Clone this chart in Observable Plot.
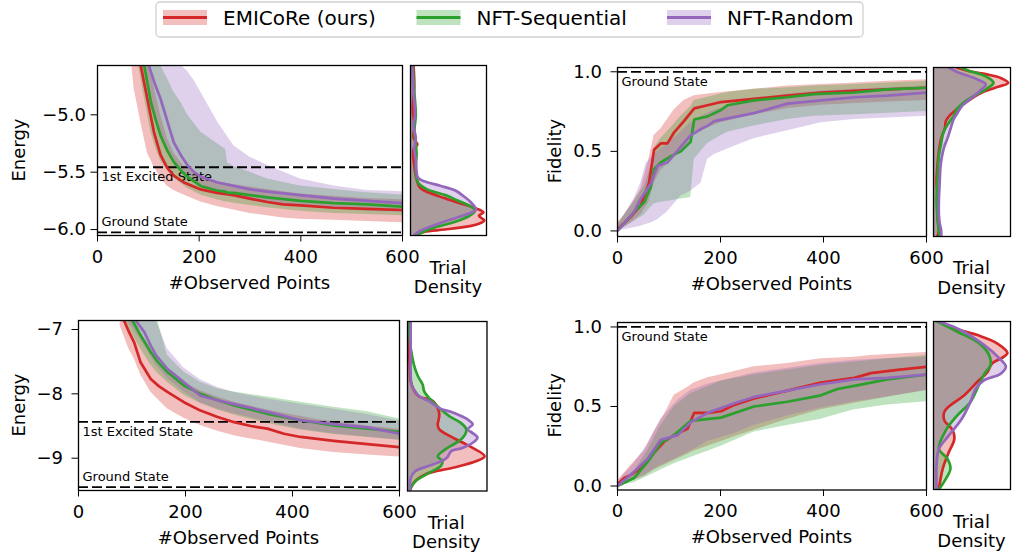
<!DOCTYPE html>
<html><head><meta charset="utf-8">
<script src="https://cdn.jsdelivr.net/npm/d3@7"></script>
<script src="https://cdn.jsdelivr.net/npm/@observablehq/plot@0.6"></script>
<style>
html,body{margin:0;padding:0;background:#fff;}
#root{position:relative;width:1013px;height:559px;overflow:hidden;font-family:"DejaVu Sans",sans-serif;background:#fff;}
</style></head><body><div id="root"></div>
<script>
// ---------- categories / labels ----------
const series = ["EMICoRe (ours)", "NFT-Sequential", "NFT-Random"];
const colors = ["#d62728", "#2ca02c", "#9467bd"];
const xTicks = [0, 200, 400, 600];
const xLabel = "#Observed Points";
const densityLabel = ["Trial", "Density"];

// ---------- Panel A: Energy (top-left). rows: [x, mean, lower, upper] ----------
const energyA_domain = [-6.052, -4.57];
const energyA_ticks = [-6.0, -5.5, -5.0];
const energyA_levels = [-5.457, -6.024];
const energyA_levelText = ["1st Excited State", "Ground State"];
const energyA_emicore = [[66,-4.30,-4.50,-4.10],[72,-4.38,-4.77,-4.15],[85,-4.57,-5.06,-4.25],[98,-4.86,-5.33,-4.45],[111,-5.15,-5.45,-4.75],[124,-5.35,-5.55,-5.0],[137,-5.46,-5.62,-5.20],[150,-5.53,-5.66,-5.33],[170,-5.59,-5.70,-5.45],[203,-5.65,-5.76,-5.53],[235,-5.68,-5.80,-5.58],[268,-5.70,-5.83,-5.61],[300,-5.73,-5.86,-5.63],[334,-5.76,-5.88,-5.65],[365,-5.78,-5.90,-5.67],[399,-5.79,-5.91,-5.69],[465,-5.81,-5.92,-5.71],[530,-5.82,-5.93,-5.73],[600,-5.83,-5.94,-5.74]];
const energyA_seq = [[80,-4.30,-4.55,-4.0],[92,-4.57,-4.85,-4.2],[105,-4.89,-5.15,-4.4],[115,-5.05,-5.30,-4.5],[124,-5.18,-5.40,-4.57],[137,-5.31,-5.48,-4.68],[150,-5.41,-5.55,-4.80],[165,-5.49,-5.60,-4.90],[177,-5.54,-5.64,-5.00],[203,-5.62,-5.70,-5.15],[235,-5.66,-5.74,-5.25],[252,-5.67,-5.76,-5.30],[256,-5.68,-5.76,-5.42],[268,-5.68,-5.77,-5.45],[300,-5.70,-5.79,-5.50],[334,-5.72,-5.81,-5.56],[399,-5.75,-5.84,-5.62],[465,-5.77,-5.86,-5.65],[530,-5.78,-5.87,-5.68],[600,-5.80,-5.88,-5.70]];
const energyA_rand = [[90,-4.30,-4.60,-4.0],[101,-4.57,-4.80,-4.1],[112,-4.72,-5.0,-4.2],[124,-4.86,-5.20,-4.3],[137,-5.05,-5.32,-4.4],[150,-5.24,-5.42,-4.5],[165,-5.36,-5.50,-4.57],[177,-5.44,-5.55,-4.62],[190,-5.50,-5.59,-4.70],[203,-5.54,-5.62,-4.80],[236,-5.59,-5.68,-5.06],[268,-5.62,-5.72,-5.27],[300,-5.65,-5.75,-5.37],[334,-5.67,-5.77,-5.44],[399,-5.70,-5.80,-5.56],[465,-5.73,-5.82,-5.62],[530,-5.75,-5.84,-5.66],[600,-5.77,-5.85,-5.67]];
// density rows: [value, relative density]
const densA_emicore = [[-4.57,0.04],[-4.75,0.05],[-4.95,0.03],[-5.10,0.05],[-5.20,0.04],[-5.26,0.09],[-5.30,0.04],[-5.44,0.05],[-5.56,0.08],[-5.63,0.12],[-5.66,0.18],[-5.72,0.42],[-5.77,0.65],[-5.81,0.84],[-5.85,0.96],[-5.88,0.90],[-5.92,0.97],[-5.95,0.90],[-5.97,0.78],[-6.0,0.45],[-6.02,0.18],[-6.05,0.06]];
const densA_seq = [[-4.57,0.03],[-4.8,0.05],[-5.0,0.07],[-5.15,0.05],[-5.25,0.07],[-5.35,0.08],[-5.45,0.07],[-5.55,0.08],[-5.60,0.11],[-5.65,0.22],[-5.70,0.46],[-5.75,0.63],[-5.79,0.77],[-5.835,0.85],[-5.87,0.80],[-5.91,0.68],[-5.95,0.50],[-5.98,0.33],[-6.01,0.20],[-6.05,0.08]];
const densA_rand = [[-4.57,0.02],[-4.8,0.04],[-5.0,0.06],[-5.1,0.04],[-5.2,0.07],[-5.3,0.05],[-5.4,0.07],[-5.5,0.08],[-5.55,0.10],[-5.58,0.18],[-5.62,0.40],[-5.66,0.59],[-5.71,0.70],[-5.76,0.79],[-5.826,0.86],[-5.88,0.68],[-5.93,0.45],[-5.98,0.24],[-6.01,0.13],[-6.05,0.05]];

// ---------- Panel B: Fidelity (top-right) ----------
const fidB_domain = [-0.035, 1.027];
const fidB_ticks = [0.0, 0.5, 1.0];
const fidB_levels = [1.0];
const fidB_levelText = ["Ground State"];
const fidB_emicore = [[0,0.01,0.0,0.05],[13,0.05,0.02,0.10],[26,0.09,0.05,0.16],[45,0.16,0.10,0.26],[61,0.30,0.18,0.45],[71,0.51,0.30,0.60],[84,0.55,0.38,0.64],[97,0.55,0.42,0.70],[110,0.62,0.46,0.76],[129,0.69,0.52,0.82],[149,0.77,0.60,0.85],[175,0.79,0.65,0.86],[201,0.81,0.68,0.87],[265,0.83,0.73,0.89],[330,0.85,0.77,0.91],[395,0.87,0.79,0.92],[460,0.88,0.80,0.93],[524,0.89,0.81,0.94],[600,0.90,0.82,0.95]];
const fidB_seq = [[0,0.0,0.0,0.04],[32,0.12,0.06,0.18],[52,0.18,0.10,0.28],[65,0.28,0.15,0.40],[71,0.39,0.17,0.52],[84,0.43,0.18,0.58],[104,0.47,0.19,0.65],[123,0.50,0.20,0.72],[142,0.56,0.21,0.78],[149,0.70,0.45,0.82],[175,0.72,0.55,0.84],[201,0.76,0.60,0.86],[214,0.79,0.62,0.87],[265,0.82,0.66,0.89],[330,0.84,0.70,0.90],[382,0.86,0.72,0.91],[460,0.87,0.73,0.92],[524,0.89,0.74,0.93],[600,0.90,0.75,0.94]];
const fidB_rand = [[0,0.0,0.0,0.03],[32,0.12,0.02,0.20],[45,0.20,0.03,0.30],[55,0.25,0.04,0.42],[65,0.30,0.05,0.46],[78,0.41,0.07,0.50],[97,0.43,0.12,0.55],[123,0.53,0.22,0.62],[142,0.60,0.25,0.68],[162,0.64,0.30,0.72],[175,0.66,0.45,0.74],[188,0.69,0.48,0.76],[233,0.72,0.54,0.80],[265,0.74,0.58,0.82],[330,0.80,0.63,0.86],[395,0.82,0.68,0.88],[460,0.84,0.70,0.89],[524,0.85,0.71,0.90],[600,0.87,0.72,0.91]];
const densB_emicore = [[-0.035,0.05],[0.0,0.07],[0.05,0.06],[0.10,0.05],[0.20,0.06],[0.30,0.04],[0.40,0.05],[0.50,0.07],[0.58,0.10],[0.65,0.15],[0.69,0.16],[0.73,0.22],[0.79,0.37],[0.84,0.52],[0.87,0.63],[0.90,0.80],[0.93,0.97],[0.96,0.88],[0.985,0.68],[1.0,0.50],[1.027,0.30]];
const densB_seq = [[-0.035,0.08],[0.0,0.07],[0.1,0.05],[0.2,0.04],[0.3,0.05],[0.4,0.06],[0.47,0.07],[0.55,0.10],[0.62,0.13],[0.68,0.20],[0.72,0.26],[0.77,0.31],[0.81,0.40],[0.85,0.53],[0.89,0.68],[0.93,0.78],[0.96,0.72],[0.985,0.61],[1.0,0.50],[1.027,0.36]];
const densB_rand = [[-0.035,0.10],[0.0,0.10],[0.05,0.08],[0.1,0.07],[0.2,0.07],[0.3,0.08],[0.4,0.09],[0.47,0.11],[0.53,0.14],[0.58,0.18],[0.64,0.22],[0.70,0.26],[0.74,0.31],[0.79,0.38],[0.83,0.48],[0.88,0.60],[0.92,0.68],[0.95,0.58],[0.985,0.39],[1.0,0.30],[1.027,0.20]];

// ---------- Panel C: Energy (bottom-left) ----------
const energyC_domain = [-9.502, -6.86];
const energyC_ticks = [-9, -8, -7];
const energyC_levels = [-8.434, -9.45];
const energyC_levelText = ["1st Excited State", "Ground State"];
const energyC_emicore = [[78,-6.70,-6.95,-6.5],[85,-6.86,-7.10,-6.6],[95,-7.05,-7.32,-6.75],[104,-7.20,-7.45,-6.86],[116,-7.51,-7.70,-7.05],[135,-7.77,-7.97,-7.35],[150,-7.88,-8.10,-7.52],[166,-7.97,-8.23,-7.65],[197,-8.13,-8.38,-7.82],[228,-8.26,-8.49,-7.95],[260,-8.36,-8.58,-8.05],[291,-8.44,-8.65,-8.13],[322,-8.50,-8.70,-8.19],[353,-8.54,-8.75,-8.25],[384,-8.62,-8.80,-8.30],[415,-8.67,-8.85,-8.35],[446,-8.70,-8.88,-8.40],[477,-8.73,-8.91,-8.43],[540,-8.78,-8.95,-8.50],[600,-8.83,-8.98,-8.55]];
const energyC_seq = [[90,-6.65,-6.9,-6.4],[101,-6.86,-7.08,-6.5],[116,-7.09,-7.30,-6.6],[135,-7.35,-7.55,-6.75],[148,-7.50,-7.68,-6.86],[166,-7.66,-7.82,-7.40],[197,-7.87,-8.02,-7.66],[228,-8.00,-8.15,-7.82],[260,-8.10,-8.25,-7.92],[291,-8.18,-8.33,-7.97],[353,-8.31,-8.46,-8.05],[415,-8.41,-8.56,-8.13],[477,-8.49,-8.63,-8.21],[540,-8.54,-8.68,-8.28],[600,-8.59,-8.72,-8.39]];
const energyC_rand = [[95,-6.65,-6.9,-6.4],[107,-6.86,-7.05,-6.5],[123,-7.04,-7.25,-6.65],[135,-7.25,-7.42,-6.75],[145,-7.40,-7.55,-6.86],[166,-7.61,-7.76,-7.30],[197,-7.82,-7.97,-7.60],[228,-8.03,-8.14,-7.78],[260,-8.10,-8.24,-7.90],[291,-8.16,-8.31,-7.98],[353,-8.28,-8.43,-8.08],[415,-8.41,-8.55,-8.16],[477,-8.47,-8.62,-8.24],[540,-8.52,-8.67,-8.32],[600,-8.62,-8.72,-8.42]];
const densC_emicore = [[-6.86,0.02],[-7.3,0.02],[-7.6,0.03],[-7.79,0.04],[-7.95,0.09],[-8.03,0.15],[-8.10,0.32],[-8.21,0.38],[-8.31,0.40],[-8.40,0.39],[-8.47,0.38],[-8.54,0.40],[-8.67,0.57],[-8.75,0.70],[-8.83,0.82],[-8.96,0.97],[-9.04,0.86],[-9.14,0.57],[-9.24,0.23],[-9.37,0.08],[-9.50,0.03]];
const densC_seq = [[-6.86,0.01],[-7.0,0.02],[-7.27,0.04],[-7.53,0.08],[-7.71,0.13],[-7.84,0.19],[-7.95,0.21],[-8.05,0.27],[-8.21,0.40],[-8.34,0.53],[-8.44,0.67],[-8.54,0.74],[-8.63,0.72],[-8.72,0.65],[-8.85,0.48],[-8.96,0.38],[-9.04,0.44],[-9.11,0.42],[-9.22,0.27],[-9.35,0.10],[-9.45,0.04],[-9.50,0.03]];
const densC_rand = [[-6.86,0.04],[-7.3,0.04],[-7.84,0.05],[-7.92,0.08],[-8.03,0.15],[-8.10,0.27],[-8.21,0.40],[-8.28,0.57],[-8.39,0.76],[-8.46,0.82],[-8.54,0.76],[-8.60,0.82],[-8.67,0.88],[-8.75,0.82],[-8.83,0.69],[-8.88,0.55],[-8.98,0.50],[-9.04,0.42],[-9.11,0.27],[-9.19,0.10],[-9.30,0.04],[-9.50,0.03]];

// ---------- Panel D: Fidelity (bottom-right) ----------
const fidD_domain = [-0.025, 1.028];
const fidD_ticks = [0.0, 0.5, 1.0];
const fidD_levels = [1.0];
const fidD_levelText = ["Ground State"];
const fidD_emicore = [[0,0.01,0.0,0.03],[13,0.05,0.02,0.08],[26,0.07,0.03,0.13],[52,0.13,0.06,0.22],[71,0.21,0.10,0.34],[91,0.28,0.13,0.45],[110,0.32,0.16,0.57],[136,0.36,0.20,0.62],[149,0.46,0.22,0.65],[175,0.46,0.25,0.68],[201,0.47,0.28,0.70],[227,0.51,0.31,0.72],[265,0.55,0.35,0.75],[330,0.60,0.42,0.77],[395,0.65,0.48,0.80],[460,0.68,0.52,0.81],[492,0.71,0.54,0.82],[544,0.73,0.57,0.83],[600,0.75,0.60,0.84]];
const fidD_seq = [[0,0.0,0.0,0.02],[32,0.05,0.02,0.09],[58,0.15,0.06,0.22],[84,0.27,0.10,0.38],[110,0.32,0.14,0.50],[142,0.41,0.18,0.58],[201,0.43,0.25,0.66],[265,0.50,0.34,0.70],[330,0.53,0.38,0.73],[395,0.57,0.42,0.76],[427,0.61,0.45,0.77],[460,0.63,0.48,0.78],[524,0.67,0.51,0.80],[600,0.70,0.53,0.82]];
const fidD_rand = [[0,0.0,0.0,0.03],[32,0.09,0.04,0.14],[58,0.17,0.08,0.26],[84,0.29,0.13,0.42],[117,0.32,0.18,0.54],[142,0.40,0.22,0.60],[175,0.46,0.28,0.64],[227,0.52,0.33,0.68],[265,0.56,0.38,0.71],[330,0.60,0.44,0.74],[395,0.64,0.49,0.77],[460,0.67,0.53,0.79],[524,0.68,0.56,0.80],[600,0.70,0.60,0.81]];
const densD_emicore = [[1.028,0.09],[0.985,0.27],[0.943,0.57],[0.89,0.83],[0.83,0.96],[0.80,0.89],[0.765,0.76],[0.71,0.70],[0.65,0.57],[0.566,0.40],[0.503,0.22],[0.46,0.14],[0.41,0.14],[0.346,0.25],[0.29,0.27],[0.21,0.20],[0.105,0.12],[-0.025,0.07]];
const densD_seq = [[1.028,0.05],[0.964,0.31],[0.90,0.57],[0.82,0.72],[0.755,0.74],[0.70,0.66],[0.63,0.59],[0.524,0.48],[0.44,0.31],[0.346,0.16],[0.23,0.07],[0.168,0.18],[0.105,0.22],[0.042,0.16],[-0.025,0.07]];
const densD_rand = [[1.028,0.07],[0.975,0.35],[0.88,0.66],[0.80,0.85],[0.744,0.94],[0.70,0.87],[0.66,0.66],[0.608,0.55],[0.524,0.48],[0.42,0.37],[0.314,0.20],[0.23,0.07],[0.126,0.04],[-0.025,0.04]];

// ---------- layout ----------
const panels = [
  {curves:[energyA_emicore,energyA_seq,energyA_rand], dens:[densA_emicore,densA_seq,densA_rand], yDomain:energyA_domain, yTicks:energyA_ticks, fmt:".1f", levels:energyA_levels, levelText:energyA_levelText, side:[1,-1], yLabel:"Energy", ylx:19, frame:{l:97,t:65,w:305,h:170}, dframe:{l:410,t:65,w:76,h:170}, ypad:5},
  {curves:[fidB_emicore,fidB_seq,fidB_rand], dens:[densB_emicore,densB_seq,densB_rand], yDomain:fidB_domain, yTicks:fidB_ticks, fmt:".1f", levels:fidB_levels, levelText:fidB_levelText, side:[1], yLabel:"Fidelity", ylx:555, frame:{l:617,t:66.5,w:309,h:169}, dframe:{l:933,t:66.5,w:77,h:169}, ypad:9},
  {curves:[energyC_emicore,energyC_seq,energyC_rand], dens:[densC_emicore,densC_seq,densC_rand], yDomain:energyC_domain, yTicks:energyC_ticks, fmt:"d", levels:energyC_levels, levelText:energyC_levelText, side:[1,-1], yLabel:"Energy", ylx:19, frame:{l:78,t:320,w:321,h:170}, dframe:{l:406.5,t:320.5,w:79.5,h:169.5}, ypad:9},
  {curves:[fidD_emicore,fidD_seq,fidD_rand], dens:[densD_emicore,densD_seq,densD_rand], yDomain:fidD_domain, yTicks:fidD_ticks, fmt:".1f", levels:fidD_levels, levelText:fidD_levelText, side:[1], yLabel:"Fidelity", ylx:555, frame:{l:617,t:321.5,w:309,h:167.5}, dframe:{l:933,t:321,w:77,h:168}, ypad:9}
];

const root = document.getElementById("root");
const baseStyle = {background:"none", fontFamily:"'DejaVu Sans', sans-serif", fontSize:"18px", color:"#000", overflow:"visible"};
const colorScale = {domain: series, range: colors};

function place(svg, left, top) {
  svg.style.position = "absolute";
  svg.style.left = left + "px";
  svg.style.top = top + "px";
  root.appendChild(svg);
}

function mainPlot(p) {
  const ml = 60, mr = 24, mt = 4, mb = 36;
  const rows = p.curves.flatMap((arr, i) => arr.map(([x, m, lo, hi]) => ({s: series[i], x, m, lo, hi})));
  const lv = p.levels.map((v, i) => ({v, t: p.levelText[i], side: p.side[i]}));
  const svg = Plot.plot({
    width: p.frame.w + ml + mr, height: p.frame.h + mt + mb,
    marginLeft: ml, marginRight: mr, marginTop: mt, marginBottom: mb,
    style: baseStyle,
    x: {domain: [0, 600], ticks: xTicks, tickSize: 6.5, tickPadding: 8, label: null, tickFormat: d3.format("d")},
    y: {domain: p.yDomain, ticks: p.yTicks, tickFormat: d3.format(p.fmt), tickSize: 6.5, tickPadding: p.ypad, label: null},
    color: colorScale,
    marks: [
      Plot.areaY(rows, {x: "x", y1: "lo", y2: "hi", z: "s", fill: "s", fillOpacity: 0.3, clip: true}),
      Plot.ruleY(lv, {y: "v", stroke: "#000", strokeWidth: 1.8, strokeDasharray: "10,4"}),
      Plot.text(lv.filter(d => d.side > 0), {x: () => 0, y: "v", text: "t", textAnchor: "start", dx: 4, dy: 10, fontSize: 13, fill: "#000"}),
      Plot.text(lv.filter(d => d.side < 0), {x: () => 0, y: "v", text: "t", textAnchor: "start", dx: 4, dy: -10, fontSize: 13, fill: "#000"}),
      Plot.line(rows, {x: "x", y: "m", z: "s", stroke: "s", strokeWidth: 2.7, clip: true}),
      Plot.frame({stroke: "#000", strokeWidth: 1.3})
    ]
  });
  place(svg, p.frame.l - ml, p.frame.t - mt);
}

function densPlot(p) {
  const m = 2;
  const rows = p.dens.flatMap((arr, i) => arr.map(([v, d]) => ({s: series[i], v, d})));
  const svg = Plot.plot({
    width: p.dframe.w + 2 * m, height: p.dframe.h + 2 * m, margin: m,
    style: baseStyle,
    x: {domain: [0, 1], axis: null},
    y: {domain: p.yDomain, axis: null},
    color: colorScale,
    marks: [
      Plot.areaX(rows, {x1: () => 0, x2: "d", y: "v", z: "s", fill: "s", fillOpacity: 0.3, curve: "catmull-rom", clip: true}),
      Plot.line(rows, {x: "d", y: "v", z: "s", stroke: "s", strokeWidth: 2.7, curve: "catmull-rom", clip: true}),
      Plot.frame({stroke: "#000", strokeWidth: 1.3})
    ]
  });
  place(svg, p.dframe.l - m, p.dframe.t - m);
}

panels.forEach(p => { mainPlot(p); densPlot(p); });

// ---------- overlay text: axis labels + legend ----------
const ov = d3.select(root).append("svg")
  .attr("width", 1013).attr("height", 559)
  .style("position", "absolute").style("left", "0px").style("top", "0px")
  .attr("font-family", "'DejaVu Sans', sans-serif").attr("fill", "#000");

panels.forEach(p => {
  const f = p.frame, df = p.dframe, bottom = f.t + f.h;
  ov.append("text").attr("x", f.l + f.w / 2).attr("y", bottom + 54).attr("text-anchor", "middle").attr("font-size", 18).text(xLabel);
  ov.append("text").attr("transform", `translate(${p.ylx},${f.t + f.h / 2}) rotate(-90)`).attr("text-anchor", "middle").attr("dy", "0.35em").attr("font-size", 18).text(p.yLabel);
  ov.append("text").attr("x", df.l + df.w / 2).attr("y", bottom + 38.5).attr("text-anchor", "middle").attr("font-size", 18).text(densityLabel[0]);
  ov.append("text").attr("x", df.l + df.w / 2).attr("y", bottom + 58).attr("text-anchor", "middle").attr("font-size", 18).text(densityLabel[1]);
});

// legend
const lg = ov.append("g");
lg.append("rect").attr("x", 156).attr("y", 2).attr("width", 707).attr("height", 35).attr("rx", 4)
  .attr("fill", "#fff").attr("fill-opacity", 0.8).attr("stroke", "#d0d0d0").attr("stroke-width", 1.3);
const legendX = [163, 416.5, 667];
series.forEach((s, i) => {
  const x = legendX[i];
  lg.append("rect").attr("x", x).attr("y", 10).attr("width", 44).attr("height", 15).attr("fill", colors[i]).attr("fill-opacity", 0.3);
  lg.append("line").attr("x1", x).attr("x2", x + 44).attr("y1", 17.5).attr("y2", 17.5).attr("stroke", colors[i]).attr("stroke-width", 3);
  lg.append("text").attr("x", x + 60).attr("y", 25).attr("font-size", 20).text(s);
});
</script></body></html>
